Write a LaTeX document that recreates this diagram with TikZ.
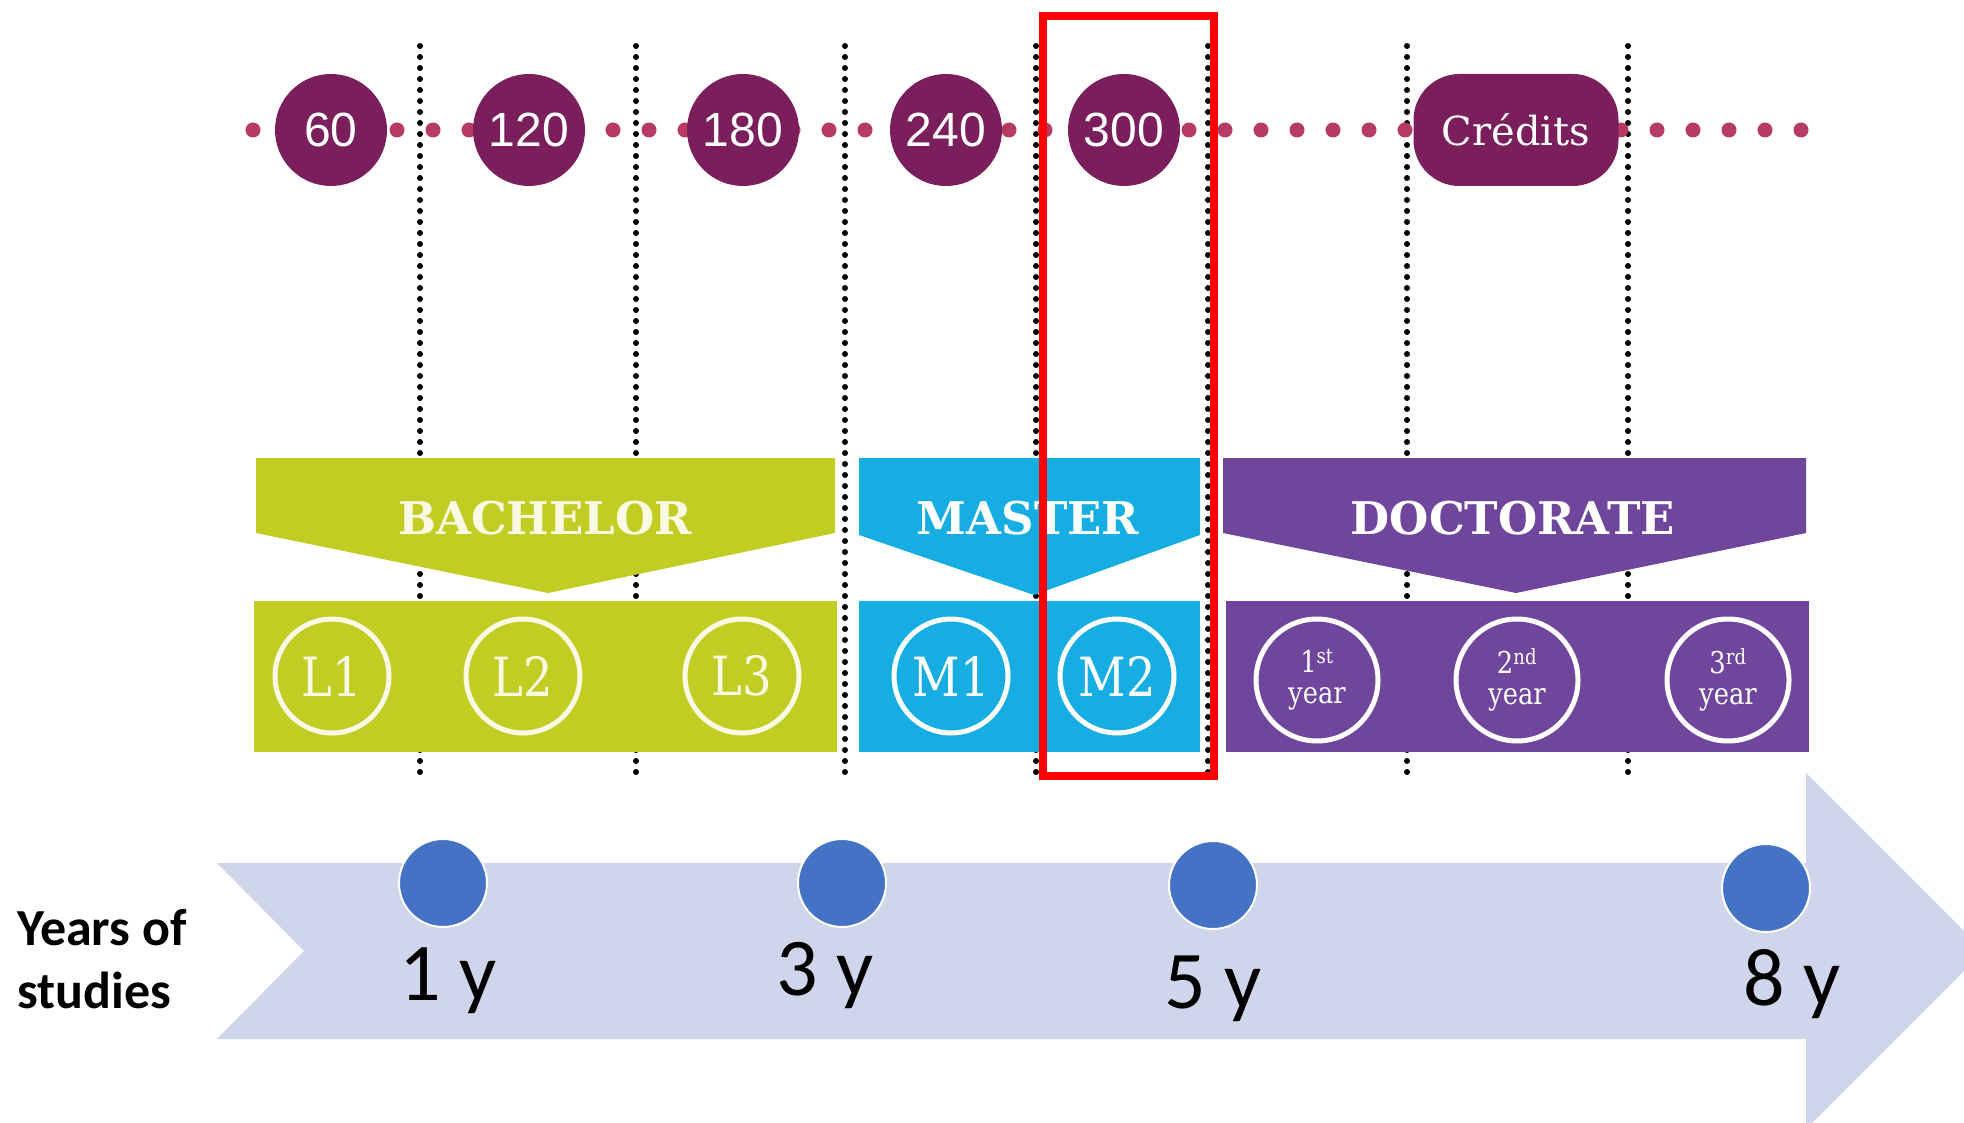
\documentclass[tikz,border=0pt]{standalone}
\usepackage{fontspec}
\setmainfont{DejaVu Serif}
\newfontfamily\numfont{Liberation Sans}
\newfontfamily\ringfont[FakeStretch=0.86]{DejaVu Serif}
\newfontfamily\calfont{Carlito}
\usetikzlibrary{positioning,shapes}
\definecolor{credit}{RGB}{122,30,92}
\definecolor{creditdot}{RGB}{182,58,98}
\definecolor{bach}{RGB}{194,205,36}
\definecolor{mast}{RGB}{22,174,226}
\definecolor{doct}{RGB}{111,70,156}
\definecolor{cream}{RGB}{250,250,228}
\definecolor{timeline}{RGB}{207,213,234}
\definecolor{yeardot}{RGB}{68,114,196}

\begin{document}
\begin{tikzpicture}[x=1pt, y=-1pt,
    banner/.style={inner sep=0pt, font=\bfseries\fontsize{45}{50}\selectfont},
    yearring/.style={circle, draw=#1, text=#1, line width=5pt, inner sep=0pt, minimum size=114pt, align=center},
    yearlabel/.style={anchor=base, font=\calfont\fontsize{82}{90}\selectfont}]
		\useasboundingbox (0,0) rectangle (1964,1123);
		\clip (0,0) rectangle (1964,1123);
		% dotted separators
		\foreach \x in {420,636,845,1036,1208,1407,1628}
			\draw[line width=6pt, line cap=round, dash pattern=on 0pt off 11pt] (\x,46) -- (\x,780);
		% credits
		\draw[creditdot, line width=15pt, line cap=round, dash pattern=on 0pt off 36pt] (253,130) -- (1805,130);
		\begin{scope}[every node/.style={circle, fill=credit, text=white, minimum size=112pt, inner sep=0pt, font=\numfont\fontsize{48}{56}\selectfont}]
			\node (c60) at (331,130) {60};
			\node (c120) at (529,130) {120};
			\node (c180) at (743,130) {180};
			\node (c240) at (946,130) {240};
			\node (c300) at (1124,130) {300};
		\end{scope}
		\node[fill=credit, text=white, rounded corners=46pt, minimum width=205pt, minimum height=112pt, font=\fontsize{40}{44}\selectfont] (credits) at (1516,130) {Crédits};
		% banners
		\fill[bach] (256,458) -- (835,458) -- (835,533) -- (548,593) -- (256,533) -- cycle;
		\fill[mast] (859,458) -- (1200,458) -- (1200,535) -- (1034,595) -- (859,535) -- cycle;
		\fill[doct] (1223,458) -- (1806,458) -- (1806,533) -- (1516,593) -- (1223,533) -- cycle;
		\node[banner, text=cream] (bachelor) at (545,518) {BACHELOR};
		\node[banner, text=white] (master) at (1028,518) {MASTER};
		\node[banner, text=white] (doctorate) at (1513,518) {DOCTORATE};
		% years
		\fill[bach] (254,601) rectangle (837,752);
		\fill[mast] (859,601) rectangle (1200,752);
		\fill[doct] (1226,601) rectangle (1809,752);
		\begin{scope}[every node/.append style={font=\ringfont\fontsize{54}{58}\selectfont}]
			\node[yearring=cream] (l1) at (332,676) {L1};
			\node[yearring=cream] (l2) at (523,676) {L2};
			\node[yearring=cream] (l3) at (742,676) {L3};
			\node[yearring=white] (m1) at (951,676) {M1};
			\node[yearring=white] (m2) at (1117,676) {M2};
		\end{scope}
		\begin{scope}[every node/.append style={font=\ringfont\fontsize{30}{31}\selectfont}]
			\node[yearring=white, minimum size=122pt] (d1) at (1317,680) {1\textsuperscript{st}\\year};
			\node[yearring=white, minimum size=122pt] (d2) at (1517,680) {2\textsuperscript{nd}\\year};
			\node[yearring=white, minimum size=122pt] (d3) at (1728,680) {3\textsuperscript{rd}\\year};
		\end{scope}
		\draw[red, line width=8pt] (1043,16) rectangle (1214,776);
		% timeline
		\fill[timeline] (217,863) -- (1806,863) -- (1806,773) -- (1984,951) -- (1806,1129) -- (1806,1039) -- (217,1039) -- (304,951) -- cycle;
		\begin{scope}[every node/.style={circle, fill=yeardot, draw=white, line width=2pt, minimum size=88pt, inner sep=0pt}]
			\node (y1) at (443,883) {};
			\node (y3) at (842,883) {};
			\node (y5) at (1213,885) {};
			\node (y8) at (1766,888) {};
		\end{scope}
		\node[yearlabel] (t1) at (448,1000) {1 y};
		\node[yearlabel] (t3) at (825,995) {3 y};
		\node[yearlabel] (t5) at (1213,1008) {5 y};
		\node[yearlabel] (t8) at (1792,1005) {8 y};
		\node[anchor=base west, align=left, inner sep=0pt, font=\calfont\bfseries\fontsize{52}{63}\selectfont] (studies) at (17,1008) {Years of\\studies};
	\end{tikzpicture}
\end{document}
